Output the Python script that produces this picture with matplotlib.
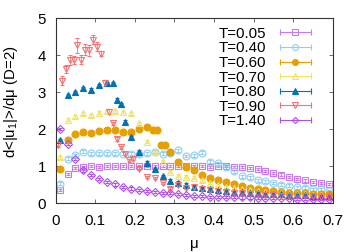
import matplotlib
matplotlib.use("Agg")
import matplotlib.pyplot as plt
from matplotlib.lines import Line2D
from matplotlib.legend_handler import HandlerLine2D

plt.rcParams['font.family'] = ['Liberation Sans', 'DejaVu Sans']
plt.rcParams['mathtext.fontset'] = 'custom'
plt.rcParams['mathtext.rm'] = 'Liberation Sans'
plt.rcParams['mathtext.it'] = 'Liberation Sans:italic'

# common mu grid
mu = [0.01, 0.03, 0.05, 0.07, 0.09, 0.11, 0.13, 0.15, 0.17, 0.19,
      0.21, 0.23, 0.25, 0.27, 0.29, 0.31, 0.33, 0.35, 0.37, 0.39,
      0.41, 0.43, 0.45, 0.47, 0.49, 0.51, 0.53, 0.55, 0.57, 0.59,
      0.61, 0.63, 0.65, 0.67, 0.69]

t005 = [0.37, 0.80, 0.96, 0.98, 1.00, 0.99, 1.00, 1.01, 1.00, 1.00,
        1.01, 1.00, 1.00, 1.01, 1.00, 1.00, 1.00, 1.00, 1.00, 0.99,
        1.00, 1.00, 0.99, 0.98, 0.96, 0.93, 0.88, 0.83, 0.78, 0.71,
        0.65, 0.62, 0.58, 0.56, 0.52]

t040 = [0.53, 1.21, 1.30, 1.39, 1.35, 1.35, 1.35, 1.35, 1.34, 1.34,
        1.33, 1.36, 1.39, 1.34, 1.35, 1.43, 1.28, 1.30, 1.37, 1.13,
        1.09, 0.98, 0.87, 0.73, 0.71, 0.62, 0.60, 0.55, 0.50, 0.47,
        0.44, 0.42, 0.38, 0.38, 0.33]

mu060 = [0.01, 0.03, 0.05, 0.07, 0.09, 0.11, 0.13, 0.15, 0.17, 0.19, 0.21, 0.23,
         0.245, 0.255, 0.265, 0.275,
         0.29, 0.31, 0.33, 0.35, 0.37, 0.39, 0.41, 0.43, 0.45, 0.47, 0.49,
         0.51, 0.53, 0.55, 0.57, 0.59, 0.61, 0.63, 0.65, 0.67, 0.69]
t060 = [0.94, 1.72, 1.88, 1.92, 1.90, 1.95, 1.99, 1.99, 1.93, 1.94, 2.02, 2.06,
        1.99, 1.97, 1.59, 1.57,
        1.39, 1.12, 0.97, 0.89, 0.76, 0.68, 0.62, 0.58, 0.51, 0.46, 0.42,
        0.39, 0.35, 0.33, 0.31, 0.29, 0.28, 0.27, 0.26, 0.25, 0.24]

t070 = [1.25, 2.26, 2.35, 2.44, 2.38, 2.45, 2.49, 2.49, 2.47, 2.44,
        2.17, 1.66, 1.38, 1.12, 0.85, 0.75, 0.72, 0.69, 0.62, 0.55,
        0.50, 0.45, 0.42, 0.38, 0.35, 0.33, 0.31, 0.29, 0.28, 0.26,
        0.25, 0.24, 0.23, 0.22, 0.21]

mu080 = [0.01, 0.03, 0.05, 0.07, 0.09, 0.11, 0.13,
         0.145, 0.155, 0.165, 0.175,
         0.19, 0.21, 0.23, 0.25, 0.27, 0.29, 0.31, 0.33, 0.35, 0.37, 0.39,
         0.41, 0.43, 0.45, 0.47, 0.49, 0.51, 0.53, 0.55, 0.57, 0.59,
         0.61, 0.63, 0.65, 0.67, 0.69]
t080 = [1.70, 2.92, 3.00, 3.11, 3.07, 3.19, 3.25,
        3.25, 2.80, 2.68, 2.20,
        1.79, 1.39, 1.10, 0.92, 0.73, 0.61, 0.56, 0.50, 0.45, 0.41, 0.38,
        0.35, 0.33, 0.31, 0.30, 0.28, 0.27, 0.26, 0.25, 0.24, 0.23,
        0.22, 0.22, 0.21, 0.21, 0.20]

mu090 = [0.005, 0.015, 0.025, 0.035, 0.045, 0.055, 0.065, 0.075, 0.085, 0.095,
         0.105, 0.115, 0.125, 0.135, 0.145, 0.155, 0.165, 0.175, 0.185, 0.195,
         0.21, 0.23, 0.25, 0.27, 0.29, 0.31, 0.33, 0.35, 0.37, 0.39,
         0.41, 0.43, 0.45, 0.47, 0.49, 0.51, 0.53, 0.55, 0.57, 0.59,
         0.61, 0.63, 0.65, 0.67, 0.69]
t090 = [1.57, 3.32, 3.63, 3.88, 3.88, 4.27, 3.88, 4.15, 4.14, 4.42,
        4.24, 4.05, 3.26, 2.48, 2.16, 1.74, 1.52, 1.34, 1.17, 1.21,
        0.94, 0.71, 0.68, 0.55, 0.40, 0.49, 0.42, 0.45, 0.40, 0.37,
        0.34, 0.31, 0.29, 0.27, 0.25, 0.24, 0.23, 0.22, 0.21, 0.20,
        0.20, 0.19, 0.19, 0.18, 0.18]
err090 = [0.05, 0.12, 0.10, 0.14, 0.10, 0.20, 0.12, 0.15, 0.15, 0.12,
          0.12, 0.08, 0.08, 0.06, 0.05, 0.05, 0.04, 0.04, 0.04, 0.04,
          0.04, 0.03, 0.03, 0.03, 0.03, 0.03, 0.03, 0.03, 0.03, 0.03,
          0.03, 0.03, 0.03, 0.03, 0.03, 0.03, 0.03, 0.03, 0.03, 0.03,
          0.03, 0.03, 0.03, 0.03, 0.03]

t140 = [2.00, 1.60, 1.20, 0.89, 0.76, 0.65, 0.57, 0.51, 0.45, 0.40,
        0.36, 0.33, 0.31, 0.29, 0.27, 0.25, 0.22, 0.20, 0.19, 0.18,
        0.18, 0.17, 0.17, 0.16, 0.16, 0.15, 0.15, 0.14, 0.14, 0.14,
        0.13, 0.13, 0.13, 0.12, 0.12]

# (label, x, y, yerr, color, marker, filled, size)
series = [
    ('T=0.05', mu, t005, 0.03, '#c87af0', 's', False, 4.6),
    ('T=0.40', mu, t040, 0.04, '#8ccff2', 'o', False, 5.0),
    ('T=0.60', mu060, t060, 0.03, '#e69f00', 'o', True, 5.0),
    ('T=0.70', mu, t070, 0.04, '#f2e265', '^', False, 5.0),
    ('T=0.80', mu080, t080, 0.04, '#0072b2', '^', True, 5.0),
    ('T=0.90', mu090, t090, err090, '#f27474', 'v', False, 5.0),
    ('T=1.40', mu, t140, 0.03, '#b050e8', 'D', False, 3.7),
]

fs = 10.8

fig = plt.figure(figsize=(3.6, 2.52), dpi=100)
ax = fig.add_axes([0.1547, 0.193, 0.7695, 0.734])

handles = []
labels = []
hmap = {}
for lab, x, y, e, c, m, filled, ms in series:
    ax.errorbar(x, y, yerr=e, fmt=m, color=c, ms=ms,
                mfc=c if filled else 'none', mec=c, mew=0.8,
                elinewidth=0.6, capsize=1.5, capthick=0.6)
    cap = Line2D([], [], color=c, lw=0.8, marker='|', ms=4, mew=0.8)
    mk = Line2D([], [], color=c, ls='none', marker=m, ms=ms * 0.85,
                mfc=c if filled else 'none', mec=c, mew=0.8)
    hmap[cap] = HandlerLine2D(numpoints=2)
    hmap[mk] = HandlerLine2D(numpoints=1)
    handles.append((cap, mk))
    labels.append(lab)

ax.set_xlim(0, 0.7)
ax.set_ylim(0, 5)
ax.set_xticks([0, 0.1, 0.2, 0.3, 0.4, 0.5, 0.6, 0.7])
ax.set_xticklabels(['0', '0.1', '0.2', '0.3', '0.4', '0.5', '0.6', '0.7'])
ax.set_yticks([0, 1, 2, 3, 4, 5])
ax.tick_params(direction='in', top=True, right=True, length=3, width=0.6,
               labelsize=fs, color='#555555')
ax.tick_params(axis='x', pad=8)
ax.tick_params(axis='y', pad=7)
for sp in ax.spines.values():
    sp.set_linewidth(0.8)
    sp.set_color('#333333')

ax.set_ylabel(r'd<|u$_1$|>/dμ (D=2)', fontsize=fs)
ax.yaxis.set_label_coords(-0.13, 0.55)
ax.set_xlabel('μ', fontsize=fs)
ax.xaxis.set_label_coords(0.5, -0.18)

ax.legend(handles, labels, handler_map=hmap, loc='upper right',
          bbox_to_anchor=(0.9386, 0.955), frameon=False, markerfirst=False,
          fontsize=fs, handlelength=2.7, handletextpad=0.6,
          labelspacing=0.04, borderpad=0, borderaxespad=0)

fig.savefig('out.png', dpi=100)
